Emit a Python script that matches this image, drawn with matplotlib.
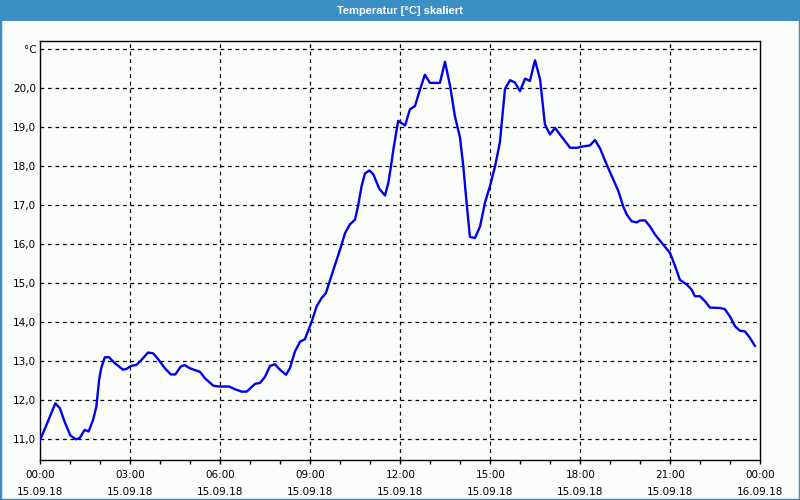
import matplotlib
matplotlib.use('Agg')
import matplotlib.pyplot as plt
from matplotlib.patches import Rectangle

# temperature readings, hours since 15.09.18 00:00
hours = [
    0.0, 0.17, 0.33, 0.5, 0.65, 0.81, 1.0, 1.18, 1.31, 1.48, 1.61, 1.76, 1.87,
    1.96, 2.03, 2.15, 2.29, 2.48, 2.76, 2.87, 3.03, 3.2, 3.37, 3.59, 3.76, 3.92,
    4.15, 4.35, 4.5, 4.68, 4.81, 4.98, 5.23, 5.32, 5.49, 5.77, 5.99, 6.3, 6.49,
    6.71, 6.88, 7.16, 7.32, 7.49, 7.66, 7.82, 7.99, 8.19, 8.32, 8.49, 8.66, 8.82,
    9.05, 9.21, 9.38, 9.52, 9.77, 9.99, 10.16, 10.32, 10.49, 10.6, 10.71, 10.82,
    10.97, 11.1, 11.3, 11.49, 11.6, 11.69, 11.77, 11.93, 12.16, 12.32, 12.49,
    12.66, 12.82, 12.99, 13.16, 13.32, 13.49, 13.66, 13.82, 13.99, 14.1, 14.21,
    14.32, 14.49, 14.66, 14.82, 14.99, 15.16, 15.32, 15.49, 15.66, 15.82, 15.99,
    16.16, 16.32, 16.49, 16.66, 16.82, 16.99, 17.16, 17.32, 17.66, 17.9, 18.05,
    18.32, 18.49, 18.66, 18.88, 19.1, 19.27, 19.43, 19.55, 19.71, 19.88, 19.99,
    20.16, 20.32, 20.49, 20.71, 20.99, 21.16, 21.32, 21.55, 21.71, 21.82, 21.99,
    22.16, 22.32, 22.66, 22.82, 22.99, 23.16, 23.32, 23.49, 23.66, 23.82,
]
temps = [
    11.0, 11.3, 11.6, 11.92, 11.8, 11.45, 11.1, 11.0, 11.03, 11.24, 11.2, 11.5, 11.84,
    12.52, 12.82, 13.1, 13.1, 12.95, 12.78, 12.8, 12.88, 12.9, 13.03, 13.22, 13.2, 13.06,
    12.82, 12.66, 12.66, 12.86, 12.9, 12.82, 12.75, 12.73, 12.56, 12.37, 12.35, 12.35, 12.28,
    12.22, 12.22, 12.42, 12.44, 12.6, 12.88, 12.92, 12.78, 12.65, 12.82, 13.25, 13.5, 13.56,
    14.02, 14.4, 14.62, 14.74, 15.34, 15.85, 16.28, 16.5, 16.62, 17.0, 17.48, 17.8,
    17.88, 17.78, 17.41, 17.24, 17.56, 17.99, 18.42, 19.15, 19.03, 19.44, 19.53,
    19.96, 20.33, 20.12, 20.12, 20.12, 20.66, 20.04, 19.27, 18.72, 17.99, 17.05,
    16.18, 16.15, 16.45, 17.05, 17.48, 17.99, 18.6, 19.97, 20.19, 20.13, 19.91,
    20.23, 20.17, 20.7, 20.21, 19.06, 18.8, 18.97, 18.8, 18.46, 18.46, 18.49,
    18.52, 18.66, 18.44, 18.03, 17.65, 17.35, 16.96, 16.75, 16.58, 16.55, 16.6,
    16.6, 16.45, 16.24, 16.03, 15.77, 15.43, 15.08, 14.96, 14.83, 14.66, 14.66,
    14.53, 14.37, 14.36, 14.33, 14.14, 13.89, 13.78, 13.76, 13.59, 13.39,
]

x_ticks = [0, 3, 6, 9, 12, 15, 18, 21, 24]
x_labels = ["00:00\n15.09.18", "03:00\n15.09.18", "06:00\n15.09.18", "09:00\n15.09.18",
            "12:00\n15.09.18", "15:00\n15.09.18", "18:00\n15.09.18", "21:00\n15.09.18",
            "00:00\n16.09.18"]
y_ticks = [11, 12, 13, 14, 15, 16, 17, 18, 19, 20, 21]
y_labels = ["11,0", "12,0", "13,0", "14,0", "15,0", "16,0", "17,0", "18,0", "19,0", "20,0", "°C"]

bg = '#fbfdfb'
frame_blue = '#3c8fc4'

fig = plt.figure(figsize=(8, 5), dpi=100)
fig.patch.set_facecolor(bg)

# title bar and window border
fig.patches.append(Rectangle((0, 1 - 21 / 500), 1, 21 / 500, transform=fig.transFigure,
                             facecolor=frame_blue, edgecolor='none', zorder=0))
fig.patches.append(Rectangle((0, 0), 1, 1, transform=fig.transFigure, fill=False,
                             edgecolor=frame_blue, linewidth=2.5, zorder=0))
fig.text(0.5, 1 - 10.5 / 500, "Temperatur [°C] skaliert", ha='center', va='center',
         color='white', fontsize=8, fontweight='bold', family='Liberation Sans')

ax = fig.add_axes([40.3 / 800, 1 - 460 / 500, 720 / 800, (460 - 40.7) / 500])
ax.set_facecolor(bg)
ax.plot(hours, temps, color='#0000ee', linewidth=1.7, zorder=3)

ax.set_xlim(0, 24)
ax.set_ylim(10.47, 21.2)

ax.set_xticks(x_ticks)
ax.set_xticklabels(x_labels, fontsize=7.5, linespacing=1.9)
ax.set_xticks(range(0, 25), minor=True)
ax.set_yticks(y_ticks)
ax.set_yticklabels(y_labels, fontsize=7.5)

ax.tick_params(axis='x', which='both', direction='out', length=3, width=1, pad=4)
ax.tick_params(axis='y', length=0, pad=3)

for t in x_ticks[1:-1]:
    ax.axvline(t, color='black', linestyle=(0, (3, 3)), linewidth=0.9, zorder=1)
for v in y_ticks:
    ax.axhline(v, color='black', linestyle=(0, (3, 3)), linewidth=0.9, zorder=1)

for s in ax.spines.values():
    s.set_color('black')
    s.set_linewidth(1)

fig.savefig('out.png', dpi=100, facecolor=bg)
